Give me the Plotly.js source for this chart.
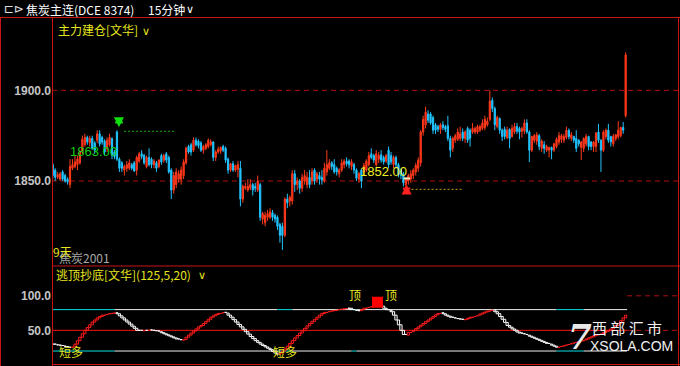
<!DOCTYPE html>
<html><head><meta charset="utf-8">
<script src="https://cdn.plot.ly/plotly-3.0.1.min.js"></script>
<style>html,body{margin:0;padding:0;background:#000;overflow:hidden}#chart{width:680px;height:366px}</style>
</head><body><div id="chart"></div>
<script>
// ---- main panel: 15-minute candles (焦炭主连) ----
const open = [1859,1856,1852,1851,1855,1853,1851,1848,1857,1858,
1859,1860,1866,1870,1874,1871,1873.5,1871,1872.5,1876,
1874,1872,1868,1870,1873.5,1866,1877,1862,1860,1856,
1857,1857,1859,1860,1856,1861,1865,1864,1858,1863,
1862,1859,1860,1858,1864,1861.5,1865,1863,1856,1845,
1848,1851,1851,1853,1860,1869,1870,1867,1872.5,1872,
1871,1867,1868,1869,1870,1871.5,1863,1866,1866.5,1869,
1868,1862,1856,1859.5,1856,1856.5,1857,1840,1846,1845,
1846,1848,1847,1845,1848,1829,1827,1830,1830,1832.5,
1831,1830,1826,1825,1820,1840,1839,1839,1854,1848,
1850,1846,1850,1848,1852,1850,1856,1851,1853,1852,
1850,1855,1857,1860,1859,1857,1854,1856,1859,1861,
1861,1858,1859,1856,1851,1856,1855,1856,1859,1865,
1864,1859,1862,1864.5,1863,1861,1867,1864,1859,1863,
1859,1856,1854,1848,1850,1851,1853,1855,1857,1860,
1877,1881,1887,1887,1885,1881,1880,1878.5,1881,1880,
1880.5,1873.5,1868,1872.5,1873,1873.5,1877,1873.5,1879,1878,
1877,1877,1877,1878,1879,1879.5,1881,1884,
1894.5,1890,1880,1884.5,1878,1878.5,1874,1878.5,1874.5,1877,
1880,1879,1877.5,1877.5,1882,1877,1867,1872.5,1872,1875,
1868,1870,1867,1867,1868.5,1867,1869,1871.5,1873,1872.5,
1874,1878,1873.5,1874.5,1873.5,1872.5,1868.5,1868,1870.5,1874.5,
1871.5,1869,1869,1877,1872.5,1867,1874.5,1878,1874.5,1870.5,
1873.5,1874.5,1875,1879.5,1886];
const high = [1860,1857,1855,1855,1856,1854,1852,1862,1862,1864,
1864,1867,1875,1876,1875,1875,1875,1872,1878,1878,
1875,1873,1874,1876,1874,1867,1878,1863,1861,1859,
1861,1862,1860,1861,1864,1866,1867,1865,1864,1868,
1863,1862,1861,1862,1865,1865,1866,1864,1857,1855,
1857,1856,1858,1862,1869,1870,1871,1874,1874,1873,
1872,1870,1871,1873.5,1873,1872,1867,1869,1869,1870,
1869,1863,1860,1861,1859,1861,1861,1848,1849,1851,
1851,1849,1849,1853,1849,1833,1833,1834,1835,1834,
1832,1831,1827,1827,1841,1843,1842,1856,1856,1852,
1851,1854,1856,1855,1856,1857,1857,1855,1855,1856,
1860,1867,1862,1861,1862,1858,1857,1862,1862,1863,
1862,1862,1860,1857,1855,1857,1860,1862,1866,1868,
1865,1867,1866,1867,1864,1865,1869,1866,1864,1864,
1860,1857,1855,1852,1854,1856,1857,1860,1863,1878,
1886,1891,1889,1888,1886,1882,1881,1882,1883,1881,
1886,1875,1874.5,1876,1879,1880,1879,1878,1880,1879,
1882,1880,1881,1881,1884,1886,1885,1900,
1896,1891,1886,1885,1879,1880,1880,1879,1881,1882,
1882,1880,1880,1884,1884,1878,1875,1876,1877,1876,
1873,1872,1870,1869,1869,1871,1874,1877,1876,1876,
1880,1879,1877,1875,1878,1873,1872,1874,1876,1875,
1872,1872,1877,1881.5,1873,1878,1879,1881.5,1875,1876,
1876,1883,1880,1882.5,1921];
const low = [1851,1850,1851,1850,1850,1849,1848,1846,1856,1857,
1856,1859,1865,1869,1870,1869,1867,1865,1871,1869,
1870,1864,1866,1869,1862,1862,1861,1855,1855,1853,
1855,1856,1856,1855,1853,1860,1862,1859,1857,1858,
1857,1857,1855,1857,1859,1860,1860,1854,1840,1843,
1846,1849,1848,1851,1859,1865,1864,1866,1869,1868,
1866,1865,1867,1868,1869,1861,1861,1865,1865,1866,
1860,1854,1855,1855,1855,1852,1836,1838,1845,1844,
1845,1842,1844,1844,1828,1826,1825,1828,1829,1828,
1827,1823,1816,1812,1819,1835,1836,1837,1844,1845,
1843,1844,1848,1846,1846,1848,1848,1849,1848,1848,
1849,1853,1856,1856,1854,1853,1852,1855,1857,1858,
1857,1856,1854,1850,1849,1846,1853,1855,1858,1862,
1860,1858,1860,1860,1859,1860,1857,1859,1857,1857,
1852,1851,1847,1845,1848,1849,1851,1853,1855,1858,
1875,1879,1882,1881,1876,1876,1877,1876,1878,1877,
1872,1863,1866,1871,1872,1872,1872,1871,1871,1869,
1876,1876,1876,1877,1878,1878,1880,1883,
1888,1878,1879,1876,1872,1873,1873,1868,1874,1876,
1876,1873,1874,1876,1876,1860.5,1866,1871,1870,1867,
1866,1865,1866,1863,1862,1866,1868,1870,1871,1871,
1873,1873,1872,1871,1866,1869,1861.5,1866,1869,1867,
1867,1866,1866,1871,1855,1866,1873,1871,1869,1869,
1872,1873,1874,1876,1885];
const close = [1853,1852,1853.5,1854,1851,1850,1849.5,1858,1859,1860.5,
1862,1866,1873,1874,1871.5,1873.5,1868,1867,1876,1870.5,
1871.5,1866,1872.5,1874,1864,1863.5,1862,1857,1857,1858,
1859,1860,1857,1855.5,1863,1865,1863.5,1860,1863,1859,
1859,1861,1857,1861.5,1860.5,1864,1861.5,1855,1845,1853,
1855,1854,1856,1860.5,1868,1866,1866,1872.5,1870,1869.5,
1867,1869,1870,1872.5,1871.5,1863,1866,1867.5,1868.5,1867,
1861.5,1856,1859.5,1856,1858.5,1859,1840,1847,1847,1847,
1848,1845,1846,1850,1830,1832,1831,1832,1833,1830,
1829,1825,1820,1820,1840,1838,1841,1854,1848,1850,
1846,1852,1853,1852,1848,1855,1850,1854,1851,1850.5,
1857,1859,1860,1858,1855,1855,1856,1860,1861,1859.5,
1859,1860.5,1856,1851.5,1854,1850,1858.5,1861,1864,1863,
1861.5,1865,1864,1861.5,1860.5,1864,1859,1860.5,1863,1859,
1853.5,1853,1849,1851,1853,1854,1856,1858.5,1861.5,1877,
1884,1888,1883.5,1882,1878,1878,1878.5,1881,1879.5,1878.5,
1873.5,1867,1873.5,1875,1877,1876,1873.5,1877,1872.5,1873.5,
1879,1879,1880,1880,1882,1884,1883,1894,
1890,1881,1885,1878,1874.5,1874.5,1878,1873.5,1879,1880,
1877.5,1877,1879,1882,1877,1867,1874.5,1875,1875.5,1869,
1872,1868,1869,1868.5,1867,1870.5,1873,1875,1875,1874.5,
1878,1874.5,1875.5,1872.5,1868,1870.5,1871.5,1873.5,1874.5,1869,
1869,1871.5,1876.5,1872.5,1867,1877,1878,1872.5,1871.5,1874.5,
1875.5,1878,1879.5,1878,1919.5];

// ---- sub panel: 逃顶抄底[文华](125,5,20) ----
const indicator = [30,29,28.5,28,27,26.5,25.5,25.5,26,
30,35,40,45,50,54,58,62,65,68,70,72,73,74,74.5,75,75.5,
74,71,68,65,62,59,56,53,50,
50,49.5,50,50,50.5,50,49.5,49,48,
46.5,45,43.5,42,40.5,39,37.5,36.5,36,36.5,
40,43,46,49,52,55,57,60,63,66,69,71,73,74.5,75.5,76,75,
72,69,65.5,62,58.5,55,51.5,48,44.5,41,38,35,32.5,30,28,26,24,22,19.5,17,15.5,
17,20,23,27,31,35,39,42.5,46,49.5,53,56.5,60,63,66,69,72,74.5,76,77,78,78.5,79,80,80.5,81,81.5,82,82,
80,79,78.5,78.5,80,82,83,84,
84.5,85,85.5,85.5,85,
82,80,79,77,72,65,58,50,44,43,47,48,
50,52.5,55,57.5,60,62.5,65,67.5,70,72.5,74.5,75.5,
74,72,70.5,69,68,67,66.5,66,65.5,66,
67.5,69,70,71,72,73.5,75,76.5,78,79,79.5,
77,74,70,66,61.5,57,54.5,52,50,47.5,46,45,44,43,41.5,40,38.5,37,35.5,34,32.5,31,30,28.5,27,25.5,
26.5,27.5,28.5,29.5,30.5,31.5,32.5,33.5,34.5,35,36,37.5,39,40.5,42,43.5,44.5,45.5,47,48.5,50,52,54,57,60,64,68,72];
const bandLevels = [80, 50, 20];
const mainTicks = [1850, 1900], mainTickText = ['1850.0', '1900.0'];
const subTicks = [50, 100], subTickText = ['50.0', '100.0'];
const topSignalX = [131.5], topSignalY = [90.7];
const topLabelX = [122.4, 137], topLabelY = [102.5, 102.5];
const buyLabelX = [7.4, 94], buyLabelY = [19.6, 20];

const idx = open.map((_, i) => i);
const lastIdx = idx.length - 1;

// indicator drawn as step boxes from previous value to current value
const upX = [], upY = [], dnX = [], dnY = [];
indicator.forEach((v, i) => {
  const o = i === 0 ? v : indicator[i - 1];
  const X = v > o ? upX : dnX, Y = v > o ? upY : dnY;
  X.push(i - 0.45, i + 0.45, i + 0.45, i - 0.45, i - 0.45, null);
  Y.push(o, o, v, v, o, null);
});

// pixel helpers for layout-only positions (plot area: x 52..678, y 18..364)
const PX = x => (x - 52) / 626;
const PY = y => (364 - y) / 346;

const RED = '#c81414';
const YEL = '#e6e61e';
const CJK = 'Noto Sans CJK SC';

const traces = [
  {type:'candlestick', x: idx, open, high, low, close, xaxis:'x', yaxis:'y',
   increasing:{line:{color:'#ff3c1c', width:1}, fillcolor:'#ff1a1a'},
   decreasing:{line:{color:'#22c4ff', width:1}, fillcolor:'#22c4ff'},
   whiskerwidth:0, hoverinfo:'skip'},
  {type:'scatter', mode:'lines', x: dnX, y: dnY, xaxis:'x', yaxis:'y2', connectgaps:false,
   line:{color:'#ffffff', width:1}, hoverinfo:'skip'},
  {type:'scatter', mode:'lines', x: upX, y: upY, xaxis:'x', yaxis:'y2', connectgaps:false,
   line:{color:'#ff1c1c', width:1}, hoverinfo:'skip'},
  {type:'scatter', mode:'markers', x: topSignalX, y: topSignalY, xaxis:'x', yaxis:'y2',
   marker:{symbol:'square', size:11, color:'#ff0000'}, hoverinfo:'skip'}
];

const shapes = [];
// dashed price grid lines
mainTicks.forEach(v => shapes.push({type:'line', xref:'paper', x0:0, x1:1, yref:'y', y0:v, y1:v,
  line:{color:'#b01010', width:1, dash:'5px,4px'}, layer:'below'}));
// band lines in sub panel
const seg = (y, a, b, c) => shapes.push({type:'line', xref:'x', x0:a, x1:b, yref:'y2', y0:y, y1:y,
  line:{color:c, width:1}, layer:'below'});
const endX = lastIdx + 0.6;
seg(bandLevels[1], -0.3, endX, '#ff1010');
[[bandLevels[0]], [bandLevels[2]]].forEach(([lv]) => {
  seg(lv, -0.3, 25, '#00e0e0');
  seg(lv, 25, 91, '#f0f0f0');
  seg(lv, 91, 97, '#00e0e0');
  seg(lv, 97, 121, '#f0f0f0');
  seg(lv, 121, 123, '#00e0e0');
  seg(lv, 123, 204, '#f0f0f0');
  seg(lv, 204, 215, '#00e0e0');
  seg(lv, 215, endX, '#f0f0f0');
});
[subTicks[0], subTicks[1]].forEach(v => shapes.push({type:'line', xref:'x', x0:endX, x1:253.2, yref:'y2', y0:v, y1:v,
  line:{color:'#b01010', width:1, dash:'5px,4px'}}));
// signal guide lines in main panel
shapes.push({type:'line', xref:'x', x0:28.9, x1:50, yref:'y', y0:1877.4, y1:1877.4, line:{color:'#10b010', width:1, dash:'2px,2px'}});
shapes.push({type:'line', xref:'x', x0:145.3, x1:166.2, yref:'y', y0:1845.4, y1:1845.4, line:{color:'#c8a000', width:1, dash:'2px,2px'}});
shapes.push({type:'line', xref:'x', x0:25.3, x1:28.4, yref:'y', y0:1882.3, y1:1882.3, line:{color:'#10e010', width:2}});
shapes.push({type:'line', xref:'x', x0:141.8, x1:144.8, yref:'y', y0:1845.8, y1:1845.8, line:{color:'#ff2020', width:2}});
shapes.push({type:'line', xref:'x', x0:142.1, x1:144.7, yref:'y', y0:1851.4, y1:1851.4, line:{color:'#f0f0c0', width:2}});
// frame
const fl = (x0, y0, x1, y1) => shapes.push({type:'line', xref:'paper', yref:'paper', x0, y0, x1, y1, line:{color:RED, width:1}});
fl(PX(0), PY(17.5), PX(680), PY(17.5));
fl(PX(52.5), PY(17.5), PX(52.5), PY(366));
fl(PX(678.5), PY(17.5), PX(678.5), PY(366));
fl(PX(52), PY(266), PX(680), PY(266));
fl(PX(52), PY(364.5), PX(680), PY(364.5));
fl(PX(0.5), PY(17.5), PX(0.5), PY(366));

const ann = [];
const txt = (x, y, text, color, size, extra) => ann.push(Object.assign({xref:'paper', yref:'paper', x:PX(x), y:PY(y),
  xanchor:'left', yanchor:'middle', text, showarrow:false, font:{family:CJK, size, color}}, extra || {}));
txt(2, 9, '⊏⊳', '#e0e0e0', 12, {font:{family:'DejaVu Sans', size:12, color:'#e0e0e0'}});
txt(24, 9, '焦炭主连(DCE 8374)', '#ffffff', 12);
txt(146, 9, '15分钟', '#ffffff', 12);
txt(184, 9, '∨', '#ffffff', 11, {font:{family:'DejaVu Sans', size:11, color:'#ffffff'}});
txt(56, 30, '主力建仓[文华]', YEL, 12);
txt(140, 31, '∨', YEL, 11, {font:{family:'DejaVu Sans', size:11, color:YEL}});
txt(57, 257, '焦炭2001', '#a8a8a8', 12);
txt(51, 252, '9天', YEL, 12);
txt(54, 274, '逃顶抄底[文华](125,5,20)', YEL, 12);
txt(196, 275, '∨', YEL, 11, {font:{family:'DejaVu Sans', size:11, color:YEL}});
// watermark
txt(566, 337, '7', '#e8e8e8', 34, {font:{family:'DejaVu Serif', size:34, color:'#e8e8e8', style:'italic', weight:'bold'}});
txt(590, 327, '西 部 汇 市', '#f0f0f0', 15);
txt(588, 346, 'XSOLA.COM', '#f0f0f0', 14, {font:{family:'Liberation Sans', size:14, color:'#f0f0f0'}});

// data-anchored labels
ann.push({xref:'x', yref:'y', x:16.7, y:1866, text:'1863.00', showarrow:false, font:{family:'Liberation Sans', size:13, color:'#10d010'}});
ann.push({xref:'x', yref:'y', x:133.8, y:1855.4, text:'1852.00', showarrow:false, font:{family:'Liberation Sans', size:13, color:'#f0f020'}});
ann.push({xref:'x', yref:'y', x:26.8, y:1879.6, text:'', showarrow:true, ax:0, ay:-10, arrowhead:2, arrowsize:1, arrowwidth:2, arrowcolor:'#10e010'});
ann.push({xref:'x', yref:'y', x:143.3, y:1848, text:'', showarrow:true, ax:0, ay:8, arrowhead:2, arrowsize:1, arrowwidth:2, arrowcolor:'#ff2020'});
topLabelX.forEach((x, i) => ann.push({xref:'x', yref:'y2', x, y:topLabelY[i], text:'顶', showarrow:false, font:{family:CJK, size:12, color:YEL}}));
buyLabelX.forEach((x, i) => ann.push({xref:'x', yref:'y2', x, y:buyLabelY[i], text:'短多', showarrow:false, font:{family:CJK, size:12, color:YEL}}));

const tickFont = {family:'Liberation Sans', size:12, color:'#c4c4c4', weight:'bold'};
const layout = {
  width:680, height:366, margin:{l:52, r:2, t:18, b:2},
  paper_bgcolor:'#000', plot_bgcolor:'#000', showlegend:false,
  xaxis:{range:[-0.3, 253.2], showgrid:false, zeroline:false, showticklabels:false, ticks:'', showline:false,
    rangeslider:{visible:false}, fixedrange:true},
  yaxis:{domain:[0.2832, 1], range:[1803.1, 1939.9], tickvals:mainTicks, ticktext:mainTickText,
    showgrid:false, zeroline:false, showline:false, ticks:'', tickfont:tickFont, fixedrange:true},
  yaxis2:{domain:[0, 0.2832], range:[1.2, 143.2], tickvals:subTicks, ticktext:subTickText,
    showgrid:false, zeroline:false, showline:false, ticks:'', tickfont:tickFont, fixedrange:true},
  shapes, annotations: ann
};
Plotly.newPlot('chart', traces, layout, {staticPlot:true, displayModeBar:false});
</script></body></html>
